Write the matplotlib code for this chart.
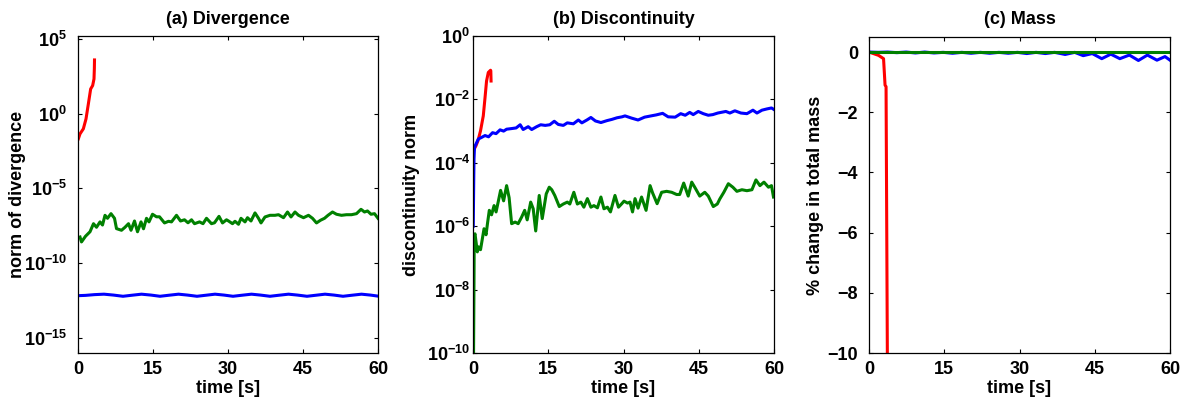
import numpy as np
import matplotlib
matplotlib.use('Agg')
import matplotlib.pyplot as plt
from matplotlib.ticker import FixedLocator, FixedFormatter

plt.rcParams['font.family'] = ['Liberation Sans', 'DejaVu Sans']
plt.rcParams['font.weight'] = 'bold'
plt.rcParams['mathtext.fontset'] = 'custom'
plt.rcParams['mathtext.rm'] = 'Liberation Sans:bold'
plt.rcParams['mathtext.bf'] = 'Liberation Sans:bold'
plt.rcParams['mathtext.default'] = 'bf'

RED = '#ff0000'
BLUE = '#0000ff'
GREEN = '#008000'

# ---- (a) divergence, values stored as log10 ----
div_red_t = [0.07, 0.4, 1.07, 1.6, 2.07, 2.53, 2.93, 3.2, 3.27, 3.3]
div_red_log = [-1.69, -1.36, -1.02, -0.36, 0.64, 1.64, 1.87, 2.31, 3.0, 3.58]

div_blue_t = [0, 1.5, 3.3, 5.2, 7.1, 9.0, 10.8, 12.7, 14.6, 16.4, 18.2, 20.1,
              21.9, 23.8, 25.6, 27.4, 29.2, 31.0, 32.8, 34.7, 36.5, 38.4, 40.2,
              42.1, 43.9, 45.8, 47.6, 49.4, 51.2, 53.0, 54.8, 56.7, 58.5, 60]
div_blue_log = [-12.17, -12.15, -12.10, -12.07, -12.13, -12.21, -12.14, -12.07,
                -12.13, -12.21, -12.14, -12.07, -12.13, -12.21, -12.14, -12.07,
                -12.13, -12.21, -12.14, -12.07, -12.13, -12.21, -12.14, -12.07,
                -12.13, -12.21, -12.14, -12.07, -12.13, -12.21, -12.14, -12.07,
                -12.13, -12.20]

div_green_t = [0.4, 0.7, 1.5, 2.4, 3.1, 3.7, 4.4, 4.9, 5.4, 5.9, 6.6, 7.3, 7.7,
               8.7, 9.4, 10.1, 10.6, 11.3, 11.9, 12.6, 13.1, 13.7, 14.2, 14.9,
               15.7, 16.3, 17.3, 18.1, 18.7, 19.7, 20.5, 21.3, 22.0, 22.7, 23.3,
               24.3, 25.0, 25.7, 26.7, 27.3, 28.2, 28.9, 29.7, 30.1, 30.9, 31.4,
               32.1, 32.6, 33.4, 33.9, 34.6, 35.4, 36.1, 36.6, 37.4, 38.4, 39.4,
               40.1, 41.1, 41.9, 42.6, 43.4, 44.1, 45.1, 46.1, 46.9, 47.7, 48.5,
               49.3, 50.0, 50.9, 51.7, 52.7, 53.7, 54.7, 55.7, 56.6, 57.3, 57.9,
               58.6, 59.3, 60.0]
div_green_log = [-8.25, -8.58, -8.2, -7.9, -7.36, -7.6, -7.24, -7.45, -6.8, -7.0,
                 -6.69, -7.0, -7.69, -7.8, -7.6, -7.36, -7.8, -7.18, -7.9, -7.24,
                 -7.7, -7.0, -7.24, -6.73, -6.9, -6.9, -7.31, -7.2, -7.24, -6.8,
                 -7.18, -7.1, -7.3, -7.1, -7.36, -7.24, -7.36, -7.0, -7.36, -7.3,
                 -6.87, -7.31, -7.1, -7.18, -7.36, -7.2, -7.4, -7.0, -7.24, -6.96,
                 -7.18, -6.64, -7.0, -7.31, -6.91, -6.8, -6.8, -6.76, -6.96, -6.58,
                 -6.91, -6.58, -6.8, -6.96, -6.8, -7.0, -7.31, -7.13, -7.0, -6.8,
                 -6.58, -6.73, -6.8, -6.76, -6.76, -6.69, -6.4, -6.58, -6.51,
                 -6.73, -6.69, -7.0]

# ---- (b) discontinuity, values stored as log10 ----
dis_red_t = [0.3, 0.6, 1.0, 1.5, 2.05, 2.4, 2.7, 3.05, 3.5, 3.55, 3.6]
dis_red_log = [-3.55, -3.46, -3.3, -2.99, -2.52, -1.94, -1.42, -1.15, -1.08, -1.1, -1.42]

dis_blue_t = [0.05, 0.15, 0.2, 0.3, 1.06, 1.7, 2.4, 3.1, 3.9, 4.6, 5.4, 6.1, 6.7,
              7.7, 8.6, 9.4, 10.0, 11.0, 11.7, 12.7, 13.5, 14.4, 15.3, 16.2, 17.0,
              18.0, 18.8, 20.0, 21.0, 21.7, 22.7, 23.5, 24.4, 25.5, 26.7, 27.7,
              28.7, 29.7, 30.3, 31.6, 32.9, 34.2, 35.5, 36.5, 37.8, 38.9, 40.3,
              41.4, 42.3, 43.2, 43.9, 44.9, 45.9, 46.9, 47.8, 48.8, 50.4, 51.2,
              52.2, 53.4, 54.6, 55.8, 56.6, 57.6, 58.6, 59.5, 60.0]
dis_blue_log = [-6.0, -4.5, -3.88, -3.51, -3.25, -3.2, -3.14, -3.18, -3.05, -3.08,
                -2.96, -3.0, -2.94, -2.92, -2.9, -2.8, -2.95, -2.86, -2.95, -2.86,
                -2.8, -2.82, -2.8, -2.69, -2.79, -2.82, -2.74, -2.77, -2.65, -2.74,
                -2.65, -2.57, -2.68, -2.73, -2.67, -2.63, -2.58, -2.55, -2.52,
                -2.59, -2.65, -2.56, -2.52, -2.49, -2.44, -2.55, -2.56, -2.45,
                -2.5, -2.41, -2.48, -2.38, -2.45, -2.5, -2.48, -2.43, -2.38, -2.43,
                -2.36, -2.43, -2.45, -2.34, -2.43, -2.34, -2.3, -2.27, -2.32]

dis_green_t = [0.1, 0.25, 0.4, 0.86, 1.1, 1.5, 2.2, 2.6, 2.9, 3.25, 3.7, 4.2, 4.6,
               5.0, 5.5, 6.1, 6.7, 7.2, 7.7, 8.4, 9.0, 9.7, 10.3, 10.8, 11.5,
               12.0, 12.5, 13.2, 13.8, 14.6, 15.2, 15.7, 16.3, 17.2, 18.0, 18.8,
               19.3, 20.1, 20.8, 21.5, 22.1, 22.8, 23.5, 24.1, 24.8, 25.5, 26.1,
               26.8, 27.4, 28.3, 29.0, 29.6, 30.1, 30.8, 31.3, 31.8, 32.3, 32.9,
               33.6, 34.5, 35.3, 35.8, 36.7, 37.6, 38.6, 39.6, 40.6, 41.2, 42.0,
               42.9, 43.6, 44.2, 45.2, 46.2, 46.9, 47.9, 48.7, 49.2, 50.0, 50.9,
               51.8, 52.6, 53.6, 54.6, 55.6, 56.4, 57.2, 58.0, 58.9, 59.5, 59.9]
dis_green_log = [-10.3, -6.3, -6.24, -6.81, -6.65, -6.74, -6.08, -6.27, -5.9, -5.5,
                 -5.64, -5.35, -5.55, -5.25, -4.87, -5.2, -4.72, -5.1, -5.92, -5.87,
                 -5.92, -5.71, -5.5, -5.8, -5.24, -5.45, -6.15, -5.03, -5.76, -4.98,
                 -4.77, -4.85, -5.03, -5.38, -5.3, -5.24, -5.3, -4.93, -5.3, -5.24,
                 -5.4, -5.13, -5.4, -5.35, -5.42, -5.08, -5.45, -5.4, -5.55, -5.03,
                 -5.4, -5.3, -5.21, -5.27, -5.24, -5.55, -5.13, -5.43, -5.08, -5.5,
                 -4.72, -4.95, -5.29, -4.93, -4.9, -4.93, -5.0, -5.0, -4.64, -5.05,
                 -4.61, -4.77, -5.05, -4.93, -5.05, -5.38, -5.3, -5.14, -4.93,
                 -4.66, -4.77, -4.9, -4.85, -4.88, -4.85, -4.54, -4.72, -4.61,
                 -4.77, -4.72, -5.08]

# ---- (c) mass change in % ----
mass_red_t = [0, 1.9, 2.9, 3.2, 3.4, 3.67]
mass_red = [0, -0.11, -0.22, -1.1, -1.15, -10.5]

mass_blue_t = [0, 1.85, 3.7, 5.55, 7.4, 9.25, 11.1, 12.95, 14.8, 16.65, 18.5,
               20.35, 22.2, 24.05, 25.9, 27.75, 29.6, 31.45, 33.3, 35.15, 37.0,
               39.1, 41.0, 42.7, 44.5, 46.4, 48.2, 50.0, 51.9, 53.7, 55.5, 57.4,
               59.0, 60.0]
mass_blue = [0, -0.01, 0, -0.02, 0, -0.03, 0, -0.03, -0.01, -0.04, -0.01, -0.04,
             -0.01, -0.04, -0.01, -0.04, -0.01, -0.05, -0.01, -0.05, -0.01,
             -0.08, -0.01, -0.12, -0.05, -0.22, -0.07, -0.22, -0.1, -0.28, -0.1,
             -0.27, -0.15, -0.27]

mass_green_t = [0, 15, 30, 45, 60]
mass_green = [0, 0, 0, 0, 0]

xticks = [0, 15, 30, 45, 60]

fig = plt.figure(figsize=(11.83, 4), dpi=100)
W, H = 1183, 400

def make_axes(left, top, right, bottom):
    return fig.add_axes([left / W, 1 - bottom / H, (right - left) / W, (bottom - top) / H])

ax_a = make_axes(78, 36, 378, 353)
ax_b = make_axes(473, 36, 774, 353)
ax_c = make_axes(869, 37, 1170, 353)

lw = 2.2
ax_a.plot(div_red_t, 10 ** np.array(div_red_log), c=RED, lw=lw)
ax_a.plot(div_blue_t, 10 ** np.array(div_blue_log), c=BLUE, lw=lw)
ax_a.plot(div_green_t, 10 ** np.array(div_green_log), c=GREEN, lw=lw)

ax_b.plot(dis_red_t, 10 ** np.array(dis_red_log), c=RED, lw=lw)
ax_b.plot(dis_blue_t, 10 ** np.array(dis_blue_log), c=BLUE, lw=lw)
ax_b.plot(dis_green_t, 10 ** np.array(dis_green_log), c=GREEN, lw=lw)

ax_c.plot(mass_red_t, mass_red, c=RED, lw=lw)
ax_c.plot(mass_blue_t, mass_blue, c=BLUE, lw=lw)
ax_c.plot(mass_green_t, mass_green, c=GREEN, lw=lw)

for ax in (ax_a, ax_b):
    ax.set_yscale('log')
    ax.minorticks_off()

ax_a.set_ylim(1e-16, 10 ** 5.18)
a_exp = [5, 0, -5, -10, -15]
ax_a.yaxis.set_major_locator(FixedLocator([10.0 ** e for e in a_exp]))
ax_a.yaxis.set_major_formatter(FixedFormatter([r'$\mathbf{10^{%s}}$' % str(e).replace('-', '-') for e in a_exp]))

ax_b.set_ylim(1e-10, 1e0)
b_exp = [0, -2, -4, -6, -8, -10]
ax_b.yaxis.set_major_locator(FixedLocator([10.0 ** e for e in b_exp]))
ax_b.yaxis.set_major_formatter(FixedFormatter([r'$\mathbf{10^{%d}}$' % e for e in b_exp]))

ax_c.set_ylim(-10, 0.5)
ax_c.set_yticks([0, -2, -4, -6, -8, -10])

titles = ['(a) Divergence', '(b) Discontinuity', '(c) Mass']
ylabels = ['norm of divergence', 'discontinuity norm', '% change in total mass']
ypads = [8, 2, 8]
ylab_x = [-0.175, -0.176, -0.15]

for ax, title, ylab, pad, lx in zip((ax_a, ax_b, ax_c), titles, ylabels, ypads, ylab_x):
    ax.set_xlim(0, 60)
    ax.set_xticks(xticks)
    ax.tick_params(direction='in', length=3, width=0.8, top=True, right=True,
                   labelsize=13)
    ax.tick_params(axis='y', pad=pad)
    ax.tick_params(axis='x', pad=6)
    for s in ax.spines.values():
        s.set_linewidth(0.9)
    ax.set_title(title, fontsize=13, fontweight='bold', pad=9)
    ax.set_xlabel('time [s]', fontsize=13, fontweight='bold', labelpad=1)
    ax.set_ylabel(ylab, fontsize=13, fontweight='bold')
    ax.yaxis.set_label_coords(lx, 0.5)
    for lab in ax.get_xticklabels() + ax.get_yticklabels():
        lab.set_fontweight('bold')

fig.savefig('out.png', dpi=100)
